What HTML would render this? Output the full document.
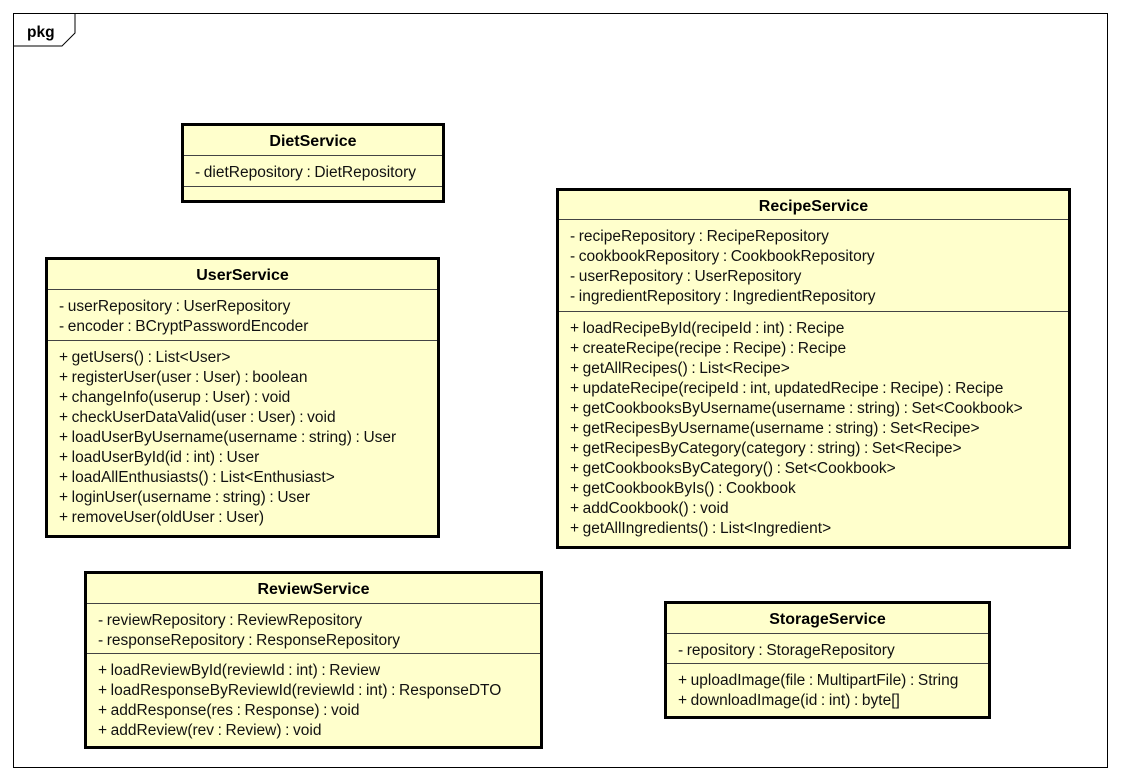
<!DOCTYPE html>
<html><head><meta charset="utf-8"><style>
body{margin:0;width:1121px;height:781px;background:#fff;position:relative;overflow:hidden;font-family:"Liberation Sans",Arial,sans-serif;}
.frame{position:absolute;left:13px;top:13px;width:1095px;height:755px;border:1px solid #000;box-sizing:border-box;}
.box{position:absolute;border:3px solid #000;background:#FFFFCC;box-sizing:border-box;display:flex;flex-direction:column;}
.h{font-weight:bold;font-size:16px;text-align:center;line-height:32px;height:29px;flex:none;color:#000;}
.c{border-top:1px solid #444;box-sizing:border-box;padding:7px 0 0 11px;font-size:15.5px;line-height:20px;color:#111;white-space:pre;flex:none;word-spacing:-0.7px;}
.f{flex:1;}
</style></head><body>
<div class="frame"></div>
<svg style="position:absolute;left:0;top:0" width="1121" height="781">
<polyline points="13,46 62,46 75,33 75,13" fill="none" stroke="#000" stroke-width="1"/>
<text x="27" y="37" font-family="Liberation Sans, Arial, sans-serif" font-weight="bold" font-size="15.5">pkg</text>
</svg>

<div class="box" style="left:181px;top:123px;width:264px;height:80px">
<div class="h">DietService</div>
<div class="c" style="height:31px">- dietRepository : DietRepository</div>
<div class="c f"></div>
</div>

<div class="box" style="left:45px;top:257px;width:395px;height:281px">
<div class="h">UserService</div>
<div class="c" style="height:51px">- userRepository : UserRepository
- encoder : BCryptPasswordEncoder</div>
<div class="c f">+ getUsers() : List&lt;User&gt;
+ registerUser(user : User) : boolean
+ changeInfo(userup : User) : void
+ checkUserDataValid(user : User) : void
+ loadUserByUsername(username : string) : User
+ loadUserById(id : int) : User
+ loadAllEnthusiasts() : List&lt;Enthusiast&gt;
+ loginUser(username : string) : User
+ removeUser(oldUser : User)</div>
</div>

<div class="box" style="left:556px;top:188px;width:515px;height:361px">
<div class="h" style="height:28px;line-height:32px">RecipeService</div>
<div class="c" style="height:92px">- recipeRepository : RecipeRepository
- cookbookRepository : CookbookRepository
- userRepository : UserRepository
- ingredientRepository : IngredientRepository</div>
<div class="c f">+ loadRecipeById(recipeId : int) : Recipe
+ createRecipe(recipe : Recipe) : Recipe
+ getAllRecipes() : List&lt;Recipe&gt;
+ updateRecipe(recipeId : int, updatedRecipe : Recipe) : Recipe
+ getCookbooksByUsername(username : string) : Set&lt;Cookbook&gt;
+ getRecipesByUsername(username : string) : Set&lt;Recipe&gt;
+ getRecipesByCategory(category : string) : Set&lt;Recipe&gt;
+ getCookbooksByCategory() : Set&lt;Cookbook&gt;
+ getCookbookByIs() : Cookbook
+ addCookbook() : void
+ getAllIngredients() : List&lt;Ingredient&gt;</div>
</div>

<div class="box" style="left:84px;top:571px;width:459px;height:178px">
<div class="h">ReviewService</div>
<div class="c" style="height:50px">- reviewRepository : ReviewRepository
- responseRepository : ResponseRepository</div>
<div class="c f">+ loadReviewById(reviewId : int) : Review
+ loadResponseByReviewId(reviewId : int) : ResponseDTO
+ addResponse(res : Response) : void
+ addReview(rev : Review) : void</div>
</div>

<div class="box" style="left:664px;top:601px;width:327px;height:118px">
<div class="h">StorageService</div>
<div class="c" style="height:30px">- repository : StorageRepository</div>
<div class="c f">+ uploadImage(file : MultipartFile) : String
+ downloadImage(id : int) : byte[]</div>
</div>
</body></html>
